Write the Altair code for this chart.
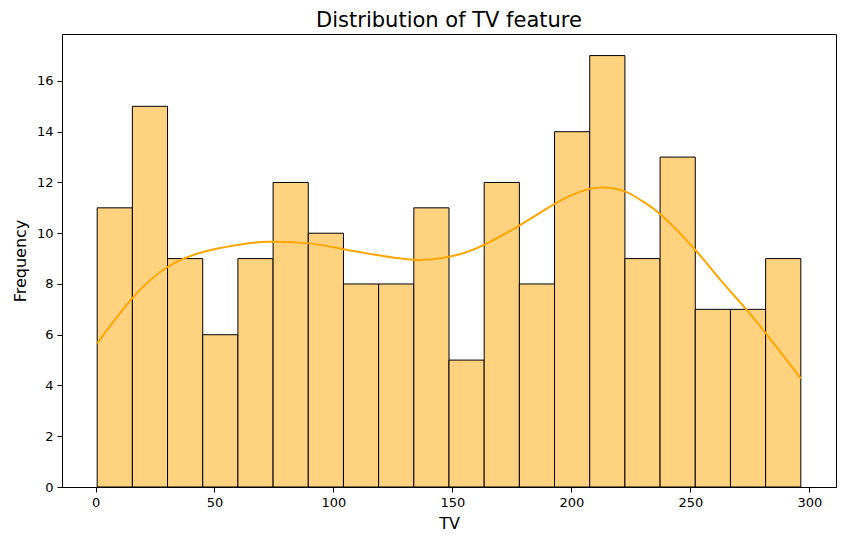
import pandas as pd
import altair as alt

# histogram of TV spend, 20 bins
bin_edges = [0.7, 15.485, 30.27, 45.055, 59.84, 74.625, 89.41, 104.195, 118.98, 133.765,
             148.55, 163.335, 178.12, 192.905, 207.69, 222.475, 237.26, 252.045, 266.83,
             281.615, 296.4]
counts = [11, 15, 9, 6, 9, 12, 10, 8, 8, 11, 5, 12, 8, 14, 17, 9, 13, 7, 7, 9]

# kde curve (scaled to counts)
kde_x = [0.7, 15.5, 30.1, 45.5, 59.5, 72.1, 89.6, 104.3, 118.3, 133.7, 145.0, 153.4,
         163.2, 178.6, 193.3, 203.8, 212.9, 222.7, 229.0, 237.7, 252.1, 262.6, 273.1,
         281.9, 296.4]
kde_y = [5.66, 7.44, 8.66, 9.27, 9.54, 9.66, 9.60, 9.37, 9.14, 8.95, 9.01, 9.18,
         9.54, 10.33, 11.18, 11.64, 11.80, 11.64, 11.31, 10.72, 9.34, 8.16, 7.04,
         6.03, 4.28]

hist_df = pd.DataFrame({
    'start': bin_edges[:-1],
    'end': bin_edges[1:],
    'count': counts,
})
kde_df = pd.DataFrame({'TV': kde_x, 'density': kde_y})

x_scale = alt.Scale(domain=[-14.085, 311.185], nice=False, zero=False)
y_scale = alt.Scale(domain=[0, 17.85], nice=False)

x_axis = alt.Axis(values=[0, 50, 100, 150, 200, 250, 300], title='TV', grid=False)
y_axis = alt.Axis(values=list(range(0, 17, 2)), title='Frequency', grid=False)

bars = alt.Chart(hist_df).mark_bar(
    color='#FFD280', stroke='black', strokeWidth=1
).encode(
    x=alt.X('start:Q', scale=x_scale, axis=x_axis),
    x2='end:Q',
    y=alt.Y('count:Q', scale=y_scale, axis=y_axis),
    y2=alt.datum(0),
)

kde = alt.Chart(kde_df).mark_line(
    color='#FFA500', strokeWidth=2, interpolate='natural'
).encode(
    x=alt.X('TV:Q', scale=x_scale),
    y=alt.Y('density:Q', scale=y_scale),
)

chart = (bars + kde).properties(
    width=774,
    height=453,
    padding={'left': 54, 'top': 26, 'right': 2, 'bottom': 49},
    autosize=alt.AutoSizeParams(type='none'),
    title=alt.TitleParams(
        'Distribution of TV feature', fontSize=21, fontWeight='normal',
        font='DejaVu Sans', color='black', anchor='middle', offset=3
    ),
).configure_view(
    stroke='black', strokeWidth=1
).configure_axis(
    domainColor='black', tickColor='black', labelColor='black', titleColor='black',
    labelFont='DejaVu Sans', titleFont='DejaVu Sans',
    labelFontSize=13, titleFontSize=16, titleFontWeight='normal',
    tickSize=5, labelPadding=4
).configure_axisX(
    titlePadding=6
).configure_axisY(
    titlePadding=8
)

chart.save("out.html", embed_options={"renderer": "svg", "actions": False})
